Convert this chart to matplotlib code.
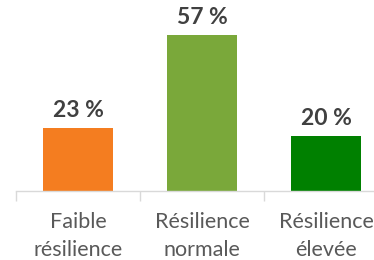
import matplotlib.pyplot as plt

categories = ['Faible\nrésilience', 'Résilience\nnormale', 'Résilience\nélevée']
values = [23, 57, 20]
colors = ['#F47D20', '#7AA83A', '#008000']

fig = plt.figure(figsize=(3.74, 2.6), dpi=100)
ax = fig.add_axes([16 / 374, 69 / 260, 358 / 374, 191 / 260])

x = range(len(values))
bars = ax.bar(x, values, width=0.565, color=colors)

for b, v in zip(bars, values):
    ax.annotate(f'{v} %', (b.get_x() + b.get_width() / 2, v),
                xytext=(0, 5), textcoords='offset points',
                ha='center', va='bottom', fontsize=16.5, fontweight='bold',
                color='#404040', family='Lato')

ax.set_xlim(-0.5, 2.387)
ax.set_ylim(0, 69.7)
ax.set_xticks(list(x))
ax.set_xticklabels(categories, fontsize=15.5, color='#595959', family='Lato',
                   linespacing=1.5)
ax.tick_params(axis='x', which='major', length=0, pad=15)
ax.set_xticks([-0.5, 0.5, 1.5], minor=True)
ax.tick_params(axis='x', which='minor', length=7, color='#D9D9D9', width=1)
ax.set_yticks([])
for s in ['top', 'right', 'left']:
    ax.spines[s].set_visible(False)
ax.spines['bottom'].set_color('#D9D9D9')
ax.spines['bottom'].set_linewidth(1)

fig.savefig('out.png', dpi=100)
